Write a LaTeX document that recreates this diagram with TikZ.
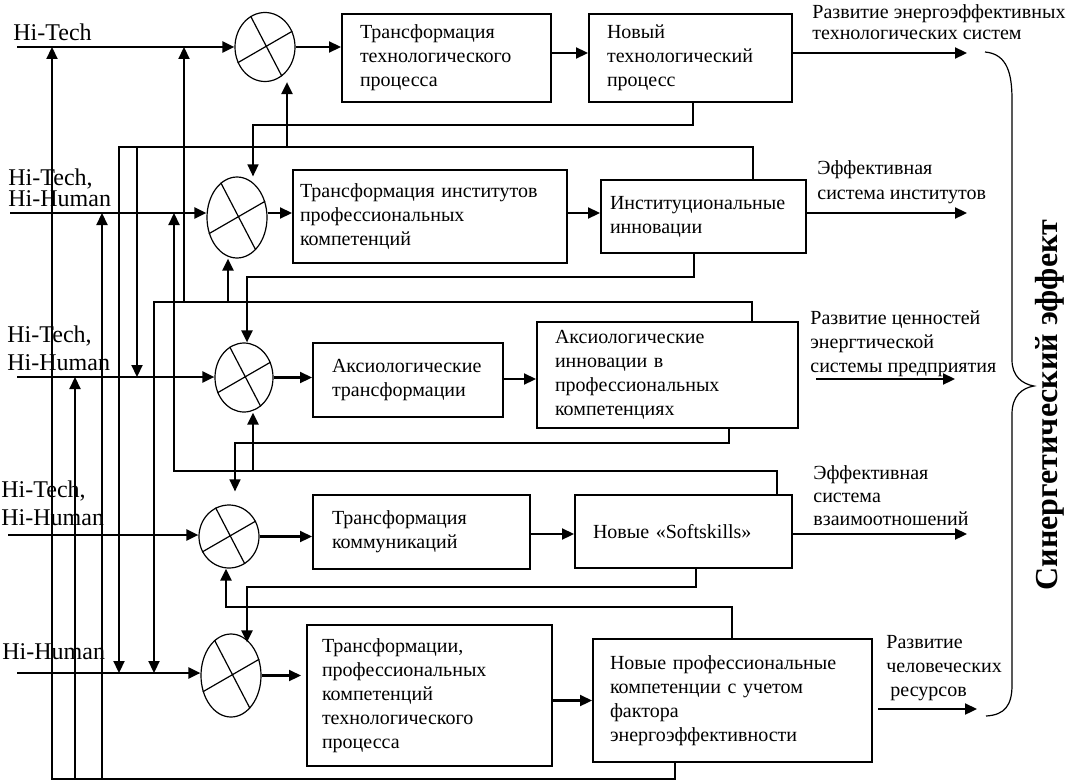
\documentclass[tikz,border=0pt]{standalone}
\usepackage{fontspec}
\setmainfont{Liberation Serif}
\usetikzlibrary{shapes.geometric,arrows.meta}
\begin{document}
\begin{tikzpicture}[x=0.5pt,y=-0.5pt,
    >={Triangle[length=6pt,width=5.5pt]},
    ln/.style={line width=1.1pt},
    tn/.style={line width=0.7pt},
    blok/.style={draw,line width=1pt,align=left,inner ysep=0pt,font=\fontsize{10}{12}\selectfont},
    sum/.style={draw,ellipse,line width=0.6pt,inner sep=0pt,minimum width=30pt},
    vhod/.style={anchor=north west,inner sep=0pt,align=left,font=\fontsize{12}{14}\selectfont},
    vyhod/.style={anchor=north west,inner sep=0pt,align=left,font=\fontsize{10}{12}\selectfont}]
  \useasboundingbox (0,0) rectangle (1069,781);

  \node[sum,minimum height=34.5pt] (s1) at (265,47) {};
  \node[sum,minimum height=40.5pt] (s2) at (237,217.5) {};
  \node[sum,minimum width=29pt,minimum height=34.5pt] (s3) at (244,377.5) {};
  \node[sum,minimum height=31.5pt] (s4) at (229,536.5) {};
  \node[sum,minimum height=41.5pt] (s5) at (231,675.5) {};
  \foreach \i in {1,...,5} {
    \draw[line width=0.6pt] (s\i.115) -- (s\i.-60) (s\i.210) -- (s\i.30);
  }

  \node[blok,text width=86.5pt,inner xsep=9pt,minimum height=44pt] (tr1) at (446.5,58) {Трансформация\\технологического\\процесса};
  \node[blok,text width=83.5pt,inner xsep=9pt,minimum height=44pt] (nov1) at (690.5,58) {Новый\\технологический\\процесс};
  \node[blok,text width=130pt,inner xsep=3.5pt,minimum height=46.5pt] (tr2) at (430,216.5) {Трансформация институтов\\профессиональных\\компетенций};
  \node[blok,text width=93.5pt,inner xsep=4.5pt,minimum height=36.5pt] (nov2) at (703.5,216.5) {Институциональные\\инновации};
  \node[blok,text width=76pt,inner xsep=9.5pt,minimum height=37pt] (tr3) at (408,380) {Аксиологические\\трансформации};
  \node[blok,text width=112.5pt,inner xsep=9pt,minimum height=53pt] (nov3) at (667.5,375) {Аксиологические\\инновации в\\профессиональных\\компетенциях};
  \node[blok,text width=89.5pt,inner xsep=9.5pt,minimum height=37pt] (tr4) at (421.5,532) {Трансформация\\коммуникаций};
  \node[blok,text width=90.5pt,inner xsep=9pt,minimum height=36.5pt] (nov4) at (683.5,531.5) {Новые «Softskills»};
  \node[blok,text width=107.5pt,inner xsep=7.5pt,minimum height=70.5pt] (tr5) at (429.5,695.5) {Трансформации,\\профессиональных\\компетенций\\технологического\\процесса};
  \node[blok,text width=122.5pt,inner xsep=8.5pt,minimum height=61.5pt] (nov5) at (732.5,700.5) {Новые профессиональные\\компетенции с учетом\\фактора\\энергоэффективности};

  \coordinate (in1) at (17,47);
  \coordinate (in2) at (10,213);
  \coordinate (in3) at (17,377);
  \coordinate (in4) at (8,535);
  \coordinate (in5) at (17,673);
  \node[vhod] (h1) at (13,23) {Hi-Tech};
  \node[vhod,font=\fontsize{12}{10.5}\selectfont] (h2) at (8,168) {Hi-Tech,\\Hi-Human};
  \node[vhod] (h3) at (7,325) {Hi-Tech,\\Hi-Human};
  \node[vhod] (h4) at (1,480) {Hi-Tech,\\Hi-Human};
  \node[vhod] (h5) at (2,643) {Hi-Human};

  \coordinate (o1) at (967,53);
  \coordinate (o2) at (967,213);
  \coordinate (o3) at (955,379);
  \coordinate (o4) at (967,534);
  \coordinate (o5) at (977,709);

  \draw[ln,->] (in1) -- (s1.west |- in1);
  \draw[ln,->] (s1.east) -- (tr1.west |- s1.east);
  \draw[ln,->] (tr1.east |- o1) -- (nov1.west |- o1);
  \draw[ln,->] (nov1.east |- o1) -- (o1);

  \draw[ln,->] (in2) -- (s2.west |- in2);
  \draw[ln,->] (s2.east |- in2) -- (tr2.west |- in2);
  \draw[ln,->] (tr2.east |- o2) -- (nov2.west |- o2);
  \draw[ln,->] (nov2.east |- o2) -- (o2);

  \draw[ln,->] (in3) -- (s3.west |- in3);
  \draw[ln,->] (s3.east) -- (tr3.west |- s3.east);
  \draw[ln,->] (tr3.east |- o3) -- (nov3.west |- o3);
  \draw[ln,->,shorten <=8.5pt] (nov3.east |- o3) -- (o3);

  \draw[ln,->] (in4) -- (s4.west |- in4);
  \draw[ln,->] (s4.east) -- (tr4.west |- s4.east);
  \draw[ln,->] (tr4.east |- o4) -- (nov4.west |- o4);
  \draw[ln,->] (nov4.east |- o4) -- (o4);

  \draw[ln,->] (in5) -- (s5.west |- in5);
  \draw[ln,->,shorten >=2.5pt] (s5.east) -- (tr5.west |- s5.east);
  \draw[ln,->] (tr5.east |- nov5.west) -- (nov5.west);
  \draw[ln,->,shorten <=2.5pt] (nov5.east |- o5) -- (o5);

  \node[vyhod,font=\fontsize{10}{10.5}\selectfont] (e1) at (812,4) {Развитие энергоэффективных\\технологических систем};
  \node[vyhod,font=\fontsize{10}{12.5}\selectfont] (e2) at (817,160) {Эффективная\\система институтов};
  \node[vyhod] (e3) at (810,310) {Развитие ценностей\\энергтической\\системы предприятия};
  \node[vyhod,font=\fontsize{10}{11.5}\selectfont] (e4) at (813,465) {Эффективная\\система\\взаимоотношений};
  \node[vyhod] (e5) at (886,635) {Развитие\\человеческих\\\hspace*{2pt}ресурсов};

  \coordinate (k1) at (693,125);
  \coordinate (k2) at (253,125);
  \draw[tn,->] (nov1.south -| k1) |- (k2) -- (s2.north -| k2);

  \coordinate (p1) at (753,147);
  \coordinate (p2) at (119,147);
  \coordinate (p3) at (287,147);
  \coordinate (p4) at (137,147);
  \draw[ln,->] (nov2.north -| p1) |- (p2) -- (p2 |- in5);
  \draw[ln,->] (p3) -- (s1.south -| p3);
  \draw[ln,->] (p4) -- (p4 |- in3);

  \coordinate (r1) at (694,277);
  \coordinate (r2) at (247,277);
  \draw[ln,->] (nov2.south -| r1) |- (r2) -- (s3.north -| r2);

  \coordinate (q1) at (752,302);
  \coordinate (q2) at (154,302);
  \coordinate (q3) at (184,302);
  \coordinate (q4) at (228,302);
  \draw[ln,->] (nov3.north -| q1) |- (q2) -- (q2 |- in5);
  \draw[ln,->] (q3) -- (q3 |- in1);
  \draw[ln,->] (q4) -- (s2.south -| q4);

  \coordinate (t1) at (729,443);
  \coordinate (t2) at (235,443);
  \draw[tn,->,shorten >=6.5pt] (nov3.south -| t1) |- (t2) -- (s4.north -| t2);

  \coordinate (u1) at (777,471);
  \coordinate (u2) at (174,471);
  \coordinate (u3) at (253,471);
  \draw[ln,->] (nov4.north -| u1) |- (u2) -- (u2 |- in2);
  \draw[ln,->] (u3) -- (s3.south -| u3);

  \coordinate (v1) at (696,587);
  \coordinate (v2) at (247,587);
  \draw[ln,->,shorten >=-4.5pt] (nov4.south -| v1) |- (v2) -- (s5.north -| v2);

  \coordinate (w1) at (732,607);
  \coordinate (w2) at (226,607);
  \draw[ln,->] (nov5.north -| w1) |- (w2) -- (s4.south -| w2);

  \coordinate (z1) at (675,779);
  \coordinate (z2) at (52,779);
  \coordinate (z3) at (75,779);
  \coordinate (z4) at (102,779);
  \draw[ln,->] (nov5.south -| z1) |- (z2) -- (z2 |- in1);
  \draw[ln,->] (z3) -- (z3 |- in3);
  \draw[ln,->] (z4) -- (z4 |- in2);

  \draw[line width=0.6pt] (985,52) .. controls (1008,54) and (1012,75) .. (1012,100) -- (1012,360)
    .. controls (1012,376) and (1022,384) .. (1034,386)
    .. controls (1022,388) and (1012,396) .. (1012,414) -- (1012,685)
    .. controls (1012,705) and (1005,715) .. (986,716);
  \node[rotate=90,font=\fontsize{16}{18}\selectfont\bfseries] (sin) at (1050,405) {Синергетический эффект};
\end{tikzpicture}
\end{document}
